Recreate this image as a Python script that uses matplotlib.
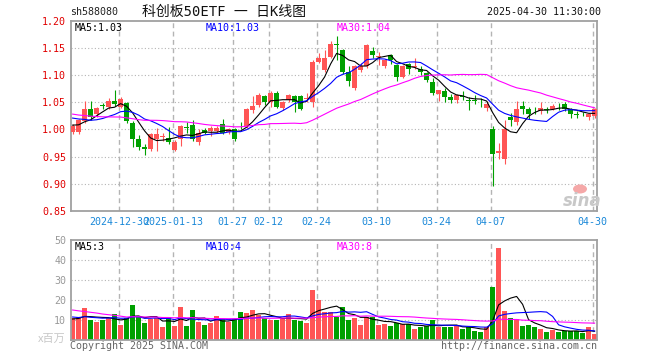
import numpy as np
import pandas as pd
import matplotlib
matplotlib.use('Agg')
import matplotlib.pyplot as plt
from matplotlib.patches import Ellipse

# ---------------- data ----------------
holidays = ['2025-01-01', '2025-01-28', '2025-01-29', '2025-01-30', '2025-01-31',
            '2025-02-03', '2025-02-04', '2025-04-04']
dates = pd.bdate_range('2024-12-18', '2025-04-30')
dates = dates[~dates.isin(pd.to_datetime(holidays))]

opens = [0.995, 0.995, 1.015, 1.038, 1.028, 1.044, 1.041, 1.052, 1.042, 1.048,
         1.012, 0.982, 0.968, 0.965, 0.982, 0.986, 0.985, 0.962, 0.983, 1.005,
         1.009, 0.977, 0.999, 0.997, 0.998, 1.010, 0.995, 1.001, 1.007, 1.006,
         1.035, 1.045, 1.062, 1.051, 1.067, 1.039, 1.054, 1.062, 1.062, 1.056,
         1.051, 1.125, 1.109, 1.134, 1.157, 1.146, 1.106, 1.076, 1.109, 1.116,
         1.145, 1.134, 1.116, 1.137, 1.118, 1.097, 1.121, 1.115, 1.112, 1.104,
         1.088, 1.066, 1.071, 1.060, 1.054, 1.062, 1.055, 1.055, 1.053, 1.040,
         1.000, 0.956, 0.946, 1.023, 1.013, 1.044, 1.038, 1.036, 1.034, 1.037,
         1.037, 1.042, 1.046, 1.037, 1.028, 1.029, 1.023, 1.025]
highs = [1.011, 1.020, 1.052, 1.052, 1.042, 1.049, 1.058, 1.072, 1.060, 1.050,
         1.015, 0.990, 0.974, 0.994, 1.003, 0.994, 1.005, 0.980, 1.009, 1.013,
         1.018, 1.001, 1.003, 1.006, 1.006, 1.020, 1.003, 1.003, 1.013, 1.040,
         1.062, 1.067, 1.063, 1.070, 1.070, 1.053, 1.065, 1.063, 1.063, 1.068,
         1.128, 1.140, 1.146, 1.162, 1.172, 1.149, 1.116, 1.119, 1.123, 1.158,
         1.152, 1.143, 1.130, 1.139, 1.121, 1.118, 1.123, 1.131, 1.117, 1.106,
         1.094, 1.073, 1.076, 1.066, 1.066, 1.070, 1.060, 1.063, 1.058, 1.052,
         1.007, 0.975, 1.017, 1.031, 1.052, 1.052, 1.042, 1.042, 1.050, 1.042,
         1.046, 1.048, 1.050, 1.040, 1.034, 1.033, 1.030, 1.040]
lows = [0.991, 0.991, 1.012, 1.018, 1.023, 1.037, 1.038, 1.043, 1.040, 1.012,
        0.968, 0.963, 0.953, 0.960, 0.960, 0.979, 0.974, 0.960, 0.969, 0.994,
        0.979, 0.972, 0.991, 0.988, 0.994, 0.991, 0.991, 0.979, 1.000, 1.003,
        1.031, 1.042, 1.045, 1.042, 1.039, 1.036, 1.051, 1.033, 1.036, 1.051,
        1.042, 1.122, 1.106, 1.131, 1.128, 1.103, 1.080, 1.073, 1.106, 1.113,
        1.131, 1.119, 1.113, 1.121, 1.090, 1.094, 1.103, 1.112, 1.100, 1.088,
        1.063, 1.053, 1.051, 1.049, 1.049, 1.055, 1.036, 1.046, 1.042, 1.034,
        0.896, 0.945, 0.937, 1.007, 1.009, 1.028, 1.020, 1.028, 1.028, 1.030,
        1.036, 1.036, 1.034, 1.021, 1.022, 1.024, 1.017, 1.021]
closes = [1.007, 1.018, 1.038, 1.023, 1.040, 1.043, 1.053, 1.046, 1.056, 1.015,
          0.983, 0.968, 0.965, 0.991, 0.991, 0.987, 0.977, 0.977, 1.007, 1.002,
          0.982, 0.993, 0.994, 1.003, 1.003, 0.994, 1.000, 0.983, 1.006, 1.038,
          1.044, 1.063, 1.051, 1.068, 1.042, 1.050, 1.063, 1.051, 1.038, 1.058,
          1.125, 1.131, 1.131, 1.158, 1.155, 1.106, 1.090, 1.116, 1.117, 1.155,
          1.137, 1.136, 1.127, 1.128, 1.097, 1.117, 1.112, 1.117, 1.106, 1.091,
          1.068, 1.072, 1.060, 1.054, 1.064, 1.060, 1.052, 1.052, 1.052, 1.046,
          0.954, 0.961, 1.001, 1.017, 1.037, 1.038, 1.029, 1.035, 1.040, 1.036,
          1.044, 1.041, 1.038, 1.028, 1.027, 1.028, 1.028, 1.037]
volumes = [10.8, 11.3, 16.2, 10.0, 9.0, 10.0, 10.8, 13.0, 7.5, 10.8,
           17.5, 11.3, 8.5, 10.3, 10.8, 6.5, 11.7, 7.0, 16.5, 7.0,
           15.0, 9.0, 7.5, 8.5, 12.0, 10.3, 9.2, 10.3, 14.0, 13.5,
           15.0, 12.5, 10.8, 10.0, 10.0, 10.8, 13.0, 10.0, 9.7, 8.7,
           25.0, 20.0, 14.0, 14.0, 11.7, 16.3, 10.0, 11.2, 7.5, 11.7,
           11.7, 7.5, 8.0, 7.0, 8.7, 8.0, 8.0, 5.5, 6.3, 7.0,
           10.0, 6.7, 6.7, 6.7, 7.3, 5.5, 6.3, 4.7, 4.0, 6.3,
           26.7, 46.0, 14.7, 11.0, 10.5, 7.0, 7.5, 6.7, 5.5, 4.0,
           5.0, 4.0, 4.7, 4.5, 4.5, 3.3, 6.5, 3.0]

# sessions before the visible window (only feed the moving averages)
prior_close = [1.070, 1.065, 1.060, 1.055, 1.062, 1.058, 1.050, 1.060, 1.060,
               1.030, 1.020, 1.000, 0.990, 0.995, 1.000, 1.005, 1.010, 1.010,
               1.015, 1.025, 1.035, 1.045, 1.040, 1.030, 1.020, 1.015, 1.010,
               1.005, 1.003]
prior_volume = [24, 26, 22, 20, 25, 21, 23, 19, 24,
                13, 12, 11, 12, 11, 13, 12, 11, 12, 12, 12,
                14, 12, 13, 11, 12.5, 10, 11, 10.5, 10.2]

tick_dates = ['2024-12-30', '2025-01-13', '2025-01-27', '2025-02-12', '2025-02-24',
              '2025-03-10', '2025-03-24', '2025-04-07', '2025-04-30']
tick_labels = ['2024-12-30', '2025-01-13', '01-27', '02-12', '02-24',
               '03-10', '03-24', '04-07', '04-30']
price_ticks = [0.85, 0.90, 0.95, 1.00, 1.05, 1.10, 1.15, 1.20]
vol_ticks = [10, 20, 30, 40, 50]

# ---------------- derived ----------------
n = len(closes)
x = np.arange(n)
o, h, l, c = map(np.array, (opens, highs, lows, closes))
v = np.array(volumes)
up = c >= o
RED, GREEN = '#ff5555', '#00a000'
colors = np.where(up, RED, GREEN)

all_c = pd.Series(prior_close + closes)
all_v = pd.Series(prior_volume + volumes)
ma = {k: all_c.rolling(k).mean().values[-n:] for k in (5, 10, 30)}
vma = {k: all_v.rolling(k).mean().values[-n:] for k in (5, 10, 30)}
ma_colors = {5: 'black', 10: '#0000ff', 30: '#ff00ff'}

tick_pos = [int(np.where(dates == pd.Timestamp(d))[0][0]) - 0.3 for d in tick_dates]

# ---------------- figure ----------------
W, H = 660, 360
fig = plt.figure(figsize=(W / 100, H / 100), dpi=100)
fig.patch.set_facecolor('white')
MONO = 'DejaVu Sans Mono'
FS = 7.2
FRAME = '#a0a0a0'
GRID = '#b4b4b4'

def px(xp, yp):
    return xp / W, 1 - yp / H

left, right = 70.7, 597
xlim = (-0.32, 87.4)
ax = fig.add_axes([left / W, 1 - 211 / H, (right - left) / W, (211 - 20.8) / H])
axv = fig.add_axes([left / W, 1 - 340 / H, (right - left) / W, 100 / H])

for a in (ax, axv):
    a.set_xlim(*xlim)
    for s in a.spines.values():
        s.set_color(FRAME)
        s.set_linewidth(1.3)
    for tp in tick_pos:
        a.axvline(tp, color=GRID, lw=1, ls=(0, (3.5, 2.5)), zorder=0)
    a.tick_params(length=0)

# price panel
ax.set_ylim(0.85, 1.20)
for p in price_ticks[1:-1]:
    ax.axhline(p, color=GRID, lw=0.8, ls=(0, (1, 2)), zorder=0)
ax.set_yticks(price_ticks)
ax.set_yticklabels(['%.2f' % p for p in price_ticks], color='#e00000',
                   fontsize=FS, family=MONO)
ax.tick_params(axis='y', pad=3.2)
ax.set_xticks(tick_pos)
ax.set_xticklabels(tick_labels, color='#1a88d8', fontsize=FS, family=MONO)
ax.tick_params(axis='x', pad=4)

ax.vlines(x, l, h, color=colors, lw=0.8, zorder=2)
body = np.maximum(np.abs(c - o), 0.0012)
ax.bar(x, body, bottom=np.minimum(o, c), width=0.78, color=colors, lw=0, zorder=3)
for k in (5, 10, 30):
    ax.plot(x, ma[k], color=ma_colors[k], lw=0.8, zorder=4)

lab_x = [0.008, (206 - left) / (right - left), (337 - left) / (right - left)]
ax.text(lab_x[0], 0.99, 'MA5:%.2f' % ma[5][-1], transform=ax.transAxes,
        color='black', fontsize=FS, family=MONO, va='top')
ax.text(lab_x[1], 0.99, 'MA10:%.2f' % ma[10][-1], transform=ax.transAxes,
        color='#0000ff', fontsize=FS, family=MONO, va='top')
ax.text(lab_x[2], 0.99, 'MA30:%.2f' % ma[30][-1], transform=ax.transAxes,
        color='#ff00ff', fontsize=FS, family=MONO, va='top')

# sina watermark
fig.text(*px(582, 201), 'sina', fontsize=12, fontweight='bold', style='italic',
         color='#c8c8c8', ha='center', va='center', family='DejaVu Sans')
fig.add_artist(Ellipse(px(580, 189), 14 / W, 9 / H, transform=fig.transFigure,
                       color='#f5a8a8', lw=0))

# volume panel
axv.set_ylim(0, 50)
for t in vol_ticks[:-1]:
    axv.axhline(t, color=GRID, lw=0.8, ls=(0, (1, 2)), zorder=0)
axv.set_yticks(vol_ticks)
axv.set_yticklabels([str(t) for t in vol_ticks], color='#999999', fontsize=FS, family=MONO)
axv.tick_params(axis='y', pad=3.2)
axv.set_xticks([])
axv.bar(x, v, width=0.83, color=colors, lw=0, zorder=2)
for k in (5, 10, 30):
    axv.plot(x, vma[k], color=ma_colors[k], lw=0.8, zorder=4)

axv.text(lab_x[0], 0.985, 'MA5:3', transform=axv.transAxes, color='black',
         fontsize=FS, family=MONO, va='top')
axv.text(lab_x[1], 0.985, 'MA10:4', transform=axv.transAxes,
         color='#0000ff', fontsize=FS, family=MONO, va='top')
axv.text(lab_x[2], 0.985, 'MA30:8', transform=axv.transAxes,
         color='#ff00ff', fontsize=FS, family=MONO, va='top')

# header / footer
fig.text(*px(70, 12), 'sh588080', fontsize=FS, family=MONO, va='center', color='#222222')
fig.text(*px(224, 12), '科创板50ETF 一 日K线图', fontsize=10, ha='center', va='center',
         family=[MONO, 'Noto Sans CJK SC'], color='#111111')
fig.text(*px(601, 12), '2025-04-30 11:30:00', fontsize=FS, family=MONO, ha='right',
         va='center', color='#111111')
fig.text(*px(66, 339), 'x百万', fontsize=8, family=['Noto Sans CJK SC'], ha='right',
         va='center', color='#c8c8c8')
fig.text(*px(70, 346), 'Copyright 2025 SINA.COM', fontsize=FS, family=MONO,
         va='center', color='#666666')
fig.text(*px(597, 346), 'http://finance.sina.com.cn', fontsize=FS, family=MONO,
         ha='right', va='center', color='#666666')

fig.savefig('out.png', dpi=100)
